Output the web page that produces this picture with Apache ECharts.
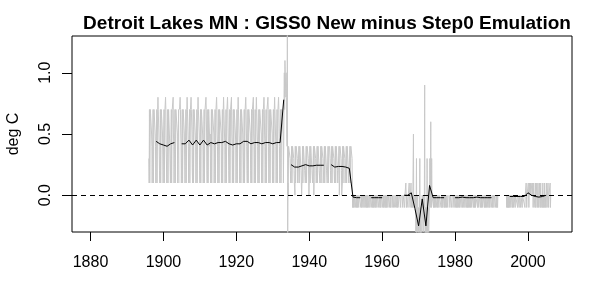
<!DOCTYPE html>
<html><head><meta charset="utf-8">
<script src="https://cdn.jsdelivr.net/npm/echarts@6/dist/echarts.min.js"></script>
<style>html,body{margin:0;padding:0;background:#fff}#c{width:589px;height:287px}</style>
</head><body><div id="c"></div>
<script>
const titleText = "Detroit Lakes MN : GISS0 New minus Step0 Emulation";
const yAxisName = "deg C";
const xTicks = [1880, 1900, 1920, 1940, 1960, 1980, 2000];
const yTicks = [0, 0.5, 1.0];

// annual means (deg C), one per year from annualStart
const annualStart = 1898;
const annualValues = [
  0.44, 0.42, 0.41, 0.40, 0.42, 0.43, null, 0.42, 0.42, 0.45,        // 1898-1907
  0.41, 0.45, 0.41, 0.45, 0.41, 0.43, 0.42, 0.43, 0.43, 0.44,        // 1908-1917
  0.42, 0.41, 0.42, 0.42, 0.44, 0.44, 0.42, 0.43, 0.43, 0.42,        // 1918-1927
  0.43, 0.43, 0.42, 0.43, 0.43, 0.78, null, 0.25, 0.23, 0.23,        // 1928-1937
  0.24, 0.25, 0.24, 0.24, 0.245, 0.245, 0.245, null, 0.25, 0.23,     // 1938-1947
  0.235, 0.235, 0.23, 0.22, -0.015, -0.02, -0.02, null, null, -0.02, // 1948-1957
  -0.02, -0.02, -0.02, null, null, null, null, null, 0.0, 0.0,       // 1958-1967
  0.02, -0.11, -0.25, -0.03, -0.25, 0.08, -0.02, -0.02, -0.02, -0.02, // 1968-1977
  null, null, -0.02, -0.02, -0.015, -0.02, -0.02, -0.02, -0.015, -0.02, // 1978-1987
  -0.02, -0.02, -0.02, null, null, null, null, -0.01, -0.01, -0.01,  // 1988-1997
  -0.01, -0.01, 0.02, 0.0, -0.01, -0.015, -0.01, 0.0                 // 1998-2005
];

// monthly differences in tenths of a degree, one row per year from monthlyStart
const monthlyStart = 1896;
const grayA = [ // 1896-1933
  [3,1,7,1,1,7,7,7,7,5,4,1],
  [1,1,7,1,1,7,7,7,7,5,4,1],
  [1,1,7,1,1,7,8,7,7,7,4,2],
  [1,1,7,1,1,7,7,7,7,5,5,1],
  [1,1,7,1,1,7,7,8,7,4,4,1],
  [1,1,7,1,1,7,7,7,7,4,4,1],
  [1,1,7,1,1,7,7,7,8,5,4,1],
  [1,1,7,1,1,7,7,7,7,7,5,1],
  [1,1,7,1,null,7,7,8,7,5,4,1],
  [1,1,7,1,1,7,7,7,7,5,5,1],
  [1,1,7,1,1,7,8,7,7,5,4,1],
  [1,1,7,1,1,7,7,8,7,7,5,2],
  [1,1,7,1,1,7,7,7,7,5,4,1],
  [1,1,7,1,1,7,8,7,7,7,5,2],
  [1,1,7,1,1,7,7,7,7,5,4,1],
  [1,1,7,1,1,7,7,7,8,7,5,2],
  [1,1,7,1,1,7,7,7,7,4,5,1],
  [1,1,7,1,1,7,7,7,7,7,5,1],
  [1,1,7,1,1,7,7,8,7,5,4,1],
  [1,1,7,1,1,7,7,7,7,7,5,1],
  [1,1,7,1,1,7,8,7,7,7,4,1],
  [1,1,7,1,1,7,7,8,7,7,4,2],
  [1,1,7,1,1,7,7,7,8,5,4,1],
  [1,1,7,1,1,7,7,7,7,5,4,1],
  [1,1,7,1,1,7,8,7,7,5,4,1],
  [1,1,7,1,1,7,7,7,7,5,5,1],
  [1,1,7,1,1,7,7,8,7,7,4,2],
  [1,1,7,1,1,7,7,7,7,7,5,2],
  [1,1,7,1,1,7,7,7,8,5,4,1],
  [1,1,7,1,1,7,8,7,7,7,4,1],
  [1,1,7,1,1,7,7,7,7,7,5,1],
  [1,1,7,1,1,7,7,8,7,5,4,1],
  [1,1,7,1,1,7,7,7,8,7,4,1],
  [1,1,7,1,1,7,7,7,7,7,5,1],
  [1,1,7,1,1,7,8,7,7,5,4,1],
  [1,1,7,1,1,7,7,8,7,7,4,1],
  [1,1,7,1,1,7,7,7,7,7,5,1],
  [4,8,10,7,11,10,9,8,10,8,5,4]
];
const grayB = [ // 1934-1951
  [14,-4,1,0,4,4,4,4,4,3,2,1],
  [1,1,4,1,1,4,4,4,4,3,2,1],
  [1,0,4,1,1,4,4,4,4,3,1,1],
  [1,1,4,1,1,4,4,4,4,2,2,0],
  [1,1,4,1,1,4,4,4,4,2,2,1],
  [1,1,4,1,1,4,4,4,4,3,3,0],
  [1,1,4,1,1,4,4,4,4,2,2,1],
  [1,1,4,0,1,4,4,4,4,3,2,1],
  [1,1,4,1,1,4,4,4,4,2,2,1],
  [1,1,4,1,1,4,4,4,4,3,1,1],
  [1,1,4,1,1,4,4,4,4,2,2,1],
  [1,1,4,1,1,4,null,4,4,3,2,1],
  [1,1,4,1,1,4,4,4,4,3,2,1],
  [1,1,4,1,1,4,4,4,4,2,1,1],
  [1,1,4,0,1,4,4,4,4,3,2,0],
  [0,1,4,1,1,4,4,4,4,3,1,1],
  [1,1,4,1,1,4,4,4,4,2,1,1],
  [1,1,4,1,1,4,4,4,4,3,0,-1]
];
const grayC = [ // 1952-1993
  [0,-1,0,0,-1,0,0,0,0,-1,0,0],
  [-1,0,0,-1,0,0,0,-1,0,0,0,0],
  [0,0,-1,0,0,-1,0,0,0,-1,0,0],
  [0,-1,0,0,null,0,-1,0,0,-1,0,0],
  [-1,0,0,0,-1,0,null,0,-1,0,0,0],
  [0,0,-1,0,0,-1,0,0,-1,0,0,0],
  [-1,0,0,-1,0,0,0,-1,0,0,0,0],
  [0,-1,0,0,0,-1,0,0,-1,0,0,0],
  [0,0,-1,0,0,-1,0,0,0,-1,0,0],
  [-1,0,0,-1,0,null,0,-1,0,0,0,0],
  [0,-1,0,0,-1,0,0,null,0,-1,0,0],
  [0,0,-1,0,0,-1,null,null,-1,0,0,0],
  [-1,0,0,-1,0,0,0,-1,null,0,0,0],
  [0,-1,0,null,null,0,0,0,-1,0,0,0],
  [0,0,-1,0,0,0,1,0,-1,0,0,0],
  [0,-1,0,0,0,1,0,0,-1,0,0,1],
  [0,-1,0,0,-1,0,0,5,-1,0,0,0],
  [0,-1,0,-3,-1,3,-4,-1,-1,0,-3,-2],
  [-1,-4,-4,-1,3,-4,-5,-1,-4,-4,-3,-2],
  [0,-1,0,-3,0,0,-1,0,9,-3,-4,-1],
  [-4,-3,-1,-4,3,-4,-4,-1,-3,-4,-4,-1],
  [0,3,-1,0,6,0,-1,3,0,0,0,0],
  [0,-1,0,0,-1,0,0,-1,0,0,0,0],
  [-1,0,0,-1,0,0,0,-1,0,0,0,0],
  [0,0,-1,0,0,-1,0,0,-1,0,0,0],
  [0,-1,0,0,-1,0,0,0,-1,0,0,0],
  [-1,0,0,0,null,0,0,-1,0,0,0,0],
  [0,-1,0,0,null,-1,0,0,0,-1,0,0],
  [0,0,-1,0,0,-1,0,0,-1,0,0,0],
  [-1,0,0,-1,0,0,0,0,-1,0,0,0],
  [0,-1,0,0,0,-1,0,0,0,-1,0,0],
  [0,0,-1,0,0,-1,0,0,-1,0,0,0],
  [-1,0,0,-1,0,0,0,-1,0,0,0,0],
  [0,-1,0,0,-1,0,0,-1,0,0,0,0],
  [0,0,-1,0,0,0,-1,0,0,0,0,0],
  [-1,0,0,-1,0,0,0,-1,0,0,0,0],
  [0,-1,0,0,-1,0,0,0,-1,0,0,0],
  [-1,0,0,0,-1,0,0,-1,0,0,0,0],
  [0,-1,0,0,-1,0,null,0,-1,0,0,0],
  [0,0,-1,0,0,-1,0,0,-1,0,null,null],
  [null,null,null,null,null,null,null,null,null,null,null,null],
  [null,null,null,null,null,null,null,null,null,null,null,null]
];
const grayD = [ // 1994-2006
  [null,0,-1,0,0,-1,0,-1,0,-1,0,0],
  [-1,0,0,0,-1,0,0,0,0,-1,0,0],
  [0,-1,0,0,0,0,-1,0,0,0,0,0],
  [0,0,-1,0,0,0,0,-1,0,0,0,0],
  [-1,0,0,0,0,-1,0,0,0,0,0,0],
  [0,0,-1,0,0,0,1,0,-1,0,0,0],
  [0,1,0,-1,0,1,0,0,1,0,0,0],
  [0,1,0,0,1,-1,0,1,0,0,0,-1],
  [0,1,-1,0,0,1,0,-1,0,1,0,-1],
  [-1,0,1,0,-1,0,1,-1,0,0,0,-1],
  [0,1,-1,0,0,-1,0,1,-1,0,0,-1],
  [0,1,0,-1,0,0,1,0,-1,0,0,0],
  [0,1,-1,0,0,null,null,null,null,null,null,null]
];

const monthlyRows = grayA.concat(grayB, grayC, grayD);
const monthly = [];
monthlyRows.forEach((row, i) => {
  row.forEach((v, m) => {
    monthly.push([monthlyStart + i + m / 12, v == null ? null : v / 10]);
  });
});
const annual = annualValues.map((v, i) => [annualStart + i, v]);

const FONT = "Liberation Sans, Arial, sans-serif";
const chart = echarts.init(document.getElementById('c'), null, {renderer: 'canvas'});
chart.setOption({
  animation: false,
  backgroundColor: '#ffffff',
  title: {
    text: titleText, left: 322, top: 9, textAlign: 'center',
    textStyle: {fontFamily: FONT, fontWeight: 'bold', fontSize: 19, color: '#000'}
  },
  graphic: [{
    type: 'text', x: 14, y: 134, rotation: Math.PI / 2, silent: true,
    style: {text: yAxisName, align: 'center', verticalAlign: 'middle',
      font: '16px ' + FONT, fill: '#000'}
  }],
  grid: {left: 72, top: 36, width: 500, height: 196, show: true, borderColor: '#000', borderWidth: 1, backgroundColor: 'transparent'},
  xAxis: {
    type: 'value', min: 1874.92, max: 2012.08,
    splitLine: {show: false},
    axisLine: {show: false, onZero: false},
    axisTick: {show: true, length: 9, inside: false, customValues: xTicks, lineStyle: {color: '#000'}},
    axisLabel: {customValues: xTicks, margin: 23, fontFamily: FONT, fontSize: 16, color: '#000',
      formatter: v => String(Math.round(v))}
  },
  yAxis: {
    type: 'value', min: -0.3, max: 1.3,
    splitLine: {show: false},
    axisLine: {show: false, onZero: false},
    axisTick: {show: true, length: 10, inside: false, customValues: yTicks, lineStyle: {color: '#000'}},
    axisLabel: {customValues: yTicks, rotate: 90, margin: 18, fontFamily: FONT, fontSize: 16, color: '#000',
      formatter: v => v.toFixed(1)}
  },
  series: [
    {type: 'line', data: monthly, showSymbol: false, connectNulls: false, clip: true,
     lineStyle: {color: '#c8c8c8', width: 1}, silent: true},
    {type: 'line', data: annual, showSymbol: false, connectNulls: false, clip: true,
     lineStyle: {color: '#000', width: 1}, silent: true,
     markLine: {silent: true, symbol: 'none', label: {show: false},
       lineStyle: {color: '#000', type: [5, 4], width: 1},
       data: [{yAxis: 0}]}}
  ]
});
</script></body></html>
